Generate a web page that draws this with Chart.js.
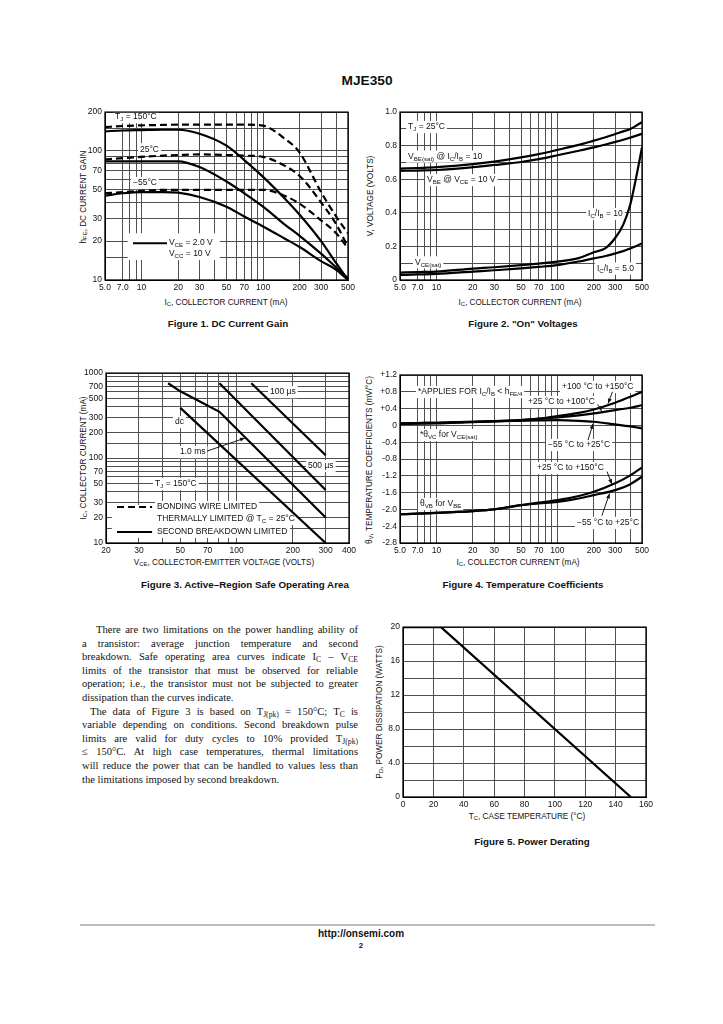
<!DOCTYPE html>
<html><head><meta charset="utf-8">
<script src="https://cdn.jsdelivr.net/npm/chart.js@4.4.0/dist/chart.umd.min.js"></script>
<style>
body{margin:0;width:723px;height:1024px;background:#fff;position:relative;overflow:hidden;font-family:"Liberation Sans",Arial,sans-serif;color:#111}
canvas{position:absolute}
.t{position:absolute;white-space:nowrap;transform:translate(-50%,-50%);line-height:1}
.ax{font-family:"Liberation Sans Narrow","Arial Narrow","Liberation Sans",sans-serif;font-size:8.2px}
.cap{font-weight:bold;font-size:9.8px}
.rot{transform:translate(-50%,-50%) rotate(-90deg)}
sub{font-size:72%;vertical-align:-0.25em;line-height:0}
.para{position:absolute;left:82px;width:276px;font-family:"Liberation Serif","Times New Roman",serif;font-size:10.6px;line-height:13.6px;color:#111}
.para div{text-align:justify;text-align-last:justify;white-space:nowrap}
.para div.end{text-align-last:left}
</style></head><body>

<div class="t" style="left:367px;top:81px;font-weight:bold;font-size:13.7px">MJE350</div>

<div class="t ax rot" style="left:84px;top:197px">h<sub>FE</sub>, DC CURRENT GAIN</div>
<div class="t ax" style="left:226px;top:303px">I<sub>C</sub>, COLLECTOR CURRENT (mA)</div>
<div class="t cap" style="left:228px;top:324px">Figure 1. DC Current Gain</div>

<div class="t ax rot" style="left:371px;top:196px">V, VOLTAGE (VOLTS)</div>
<div class="t ax" style="left:520px;top:303px">I<sub>C</sub>, COLLECTOR CURRENT (mA)</div>
<div class="t cap" style="left:523px;top:324px">Figure 2. "On" Voltages</div>

<div class="t ax rot" style="left:84px;top:458px">I<sub>C</sub>, COLLECTOR CURRENT (mA)</div>
<div class="t ax" style="left:224px;top:563px">V<sub>CE</sub>, COLLECTOR-EMITTER VOLTAGE (VOLTS)</div>
<div class="t cap" style="left:245px;top:585px">Figure 3. Active–Region Safe Operating Area</div>

<div class="t ax rot" style="left:370px;top:460px">θ<sub>V</sub>, TEMPERATURE COEFFICIENTS (mV/°C)</div>
<div class="t ax" style="left:518px;top:563px">I<sub>C</sub>, COLLECTOR CURRENT (mA)</div>
<div class="t cap" style="left:523px;top:585px">Figure 4. Temperature Coefficients</div>

<div class="t ax rot" style="left:380px;top:712px">P<sub>D</sub>, POWER DISSIPATION (WATTS)</div>
<div class="t ax" style="left:527px;top:817px">T<sub>C</sub>, CASE TEMPERATURE (°C)</div>
<div class="t cap" style="left:532px;top:842px">Figure 5. Power Derating</div>

<div class="para" style="top:623px">
<div style="text-indent:14px">There are two limitations on the power handling ability of</div>
<div>a transistor: average junction temperature and second</div>
<div>breakdown. Safe operating area curves indicate I<sub>C</sub> – V<sub>CE</sub></div>
<div>limits of the transistor that must be observed for reliable</div>
<div>operation; i.e., the transistor must not be subjected to greater</div>
<div class="end">dissipation than the curves indicate.</div>
<div style="text-indent:8px">The data of Figure 3 is based on T<sub>J(pk)</sub> = 150°C; T<sub>C</sub> is</div>
<div>variable depending on conditions. Second breakdown pulse</div>
<div>limits are valid for duty cycles to 10% provided T<sub>J(pk)</sub></div>
<div>≤ 150°C. At high case temperatures, thermal limitations</div>
<div>will reduce the power that can be handled to values less than</div>
<div class="end">the limitations imposed by second breakdown.</div>
</div>

<div style="position:absolute;left:80px;top:924px;width:575px;height:2px;background:#bdbdbd"></div>
<div class="t" style="left:361px;top:934px;font-weight:bold;font-size:10px">http://onsemi.com</div>
<div class="t" style="left:361px;top:946px;font-weight:bold;font-size:8px">2</div>

<script>
// ---------- DATA ----------
// Collector-current axis (Figures 1, 2, 4)
const icGrid = [5, 7, 8, 9, 10, 20, 30, 40, 50, 60, 70, 80, 90, 100, 200, 300, 400, 500];
const icLabelValues = [5, 7, 10, 20, 30, 50, 70, 100, 200, 300, 500];
const icLabelText = ['5.0', '7.0', '10', '20', '30', '50', '70', '100', '200', '300', '500'];

// Figure 1: DC current gain
const hfeGrid = [10, 15, 20, 30, 40, 50, 60, 70, 80, 90, 100, 150, 200];
const hfeLabelValues = [10, 20, 30, 50, 70, 100, 200];
const hfeLabelText = ['10', '20', '30', '50', '70', '100', '200'];
const fig1IC = [5, 7, 10, 15, 20, 30, 50, 70, 100, 150, 200, 300, 400, 500];
const hfe150VCC = [153, 156, 158, 159, 160, 160, 160, 160, 157, 125, 97, 48, 31, 23];
const hfe150VCE = [142, 144, 145, 146, 146, 136, 110, 85, 63, 43, 32, 20, 13.5, 10];
const hfe25VCC = [86, 88, 90, 92, 93, 94, 93, 92, 90, 77, 64, 40, 27, 18];
const hfe25VCE = [83, 83, 83, 83, 83, 75, 58, 47, 37, 27, 22, 16, 12.5, 10.3];
const hfeM55VCC = [47, 48, 49, 50, 50, 50, 50, 50, 50, 45, 39, 29, 23, 17.6];
const hfeM55VCE = [45, 47, 48, 48, 47.5, 44, 37, 31, 26, 21, 18, 14, 12, 10];

// Figure 2: "On" voltages
const voltGrid = [0, 0.1, 0.2, 0.3, 0.4, 0.5, 0.6, 0.7, 0.8, 0.9, 1.0];
const voltLabelValues = [0, 0.2, 0.4, 0.6, 0.8, 1.0];
const voltLabelText = ['0', '0.2', '0.4', '0.6', '0.8', '1.0'];
const fig2IC = [5, 7, 10, 20, 30, 50, 70, 100, 150, 200, 250, 300, 350, 400, 450, 500];
const vbeSat = [0.663, 0.667, 0.672, 0.69, 0.705, 0.73, 0.75, 0.775, 0.805, 0.83, 0.85, 0.87, 0.885, 0.9, 0.92, 0.94];
const vbeOn = [0.65, 0.652, 0.655, 0.672, 0.685, 0.703, 0.72, 0.743, 0.77, 0.79, 0.807, 0.822, 0.835, 0.848, 0.86, 0.871];
const vceSat10 = [0.044, 0.047, 0.05, 0.068, 0.076, 0.089, 0.098, 0.109, 0.13, 0.165, 0.19, 0.25, 0.33, 0.45, 0.62, 0.79];
const vceSat5 = [0.03, 0.033, 0.036, 0.05, 0.058, 0.069, 0.078, 0.089, 0.11, 0.129, 0.143, 0.158, 0.172, 0.188, 0.203, 0.218];

// Figure 3: safe operating area
const vceGrid = [20, 30, 40, 50, 60, 70, 80, 90, 100, 200, 300, 400];
const vceLabelValues = [20, 30, 50, 70, 100, 200, 300, 400];
const vceLabelText = ['20', '30', '50', '70', '100', '200', '300', '400'];
const soaIGrid = [10, 15, 20, 30, 40, 50, 60, 70, 80, 90, 100, 150, 200, 300, 400, 500, 600, 700, 800, 900, 1000];
const soaILabelValues = [10, 20, 30, 50, 70, 100, 200, 300, 500, 700, 1000];
const soaILabelText = ['10', '20', '30', '50', '70', '100', '200', '300', '500', '700', '1000'];
const soaDcV = [50, 300];
const soaDcI = [390, 10];
const soa1msV = [43, 50, 64, 81, 300];
const soa1msI = [760, 610, 460, 350, 20];
const soa500usV = [81, 300];
const soa500usI = [760, 42];
const soa100usV = [120, 300];
const soa100usI = [760, 108];

// Figure 4: temperature coefficients
const tcGrid = [-2.8, -2.4, -2.0, -1.6, -1.2, -0.8, -0.4, 0, 0.4, 0.8, 1.2];
const tcLabelText = ['-2.8', '-2.4', '-2.0', '-1.6', '-1.2', '-0.8', '-0.4', '0', '+0.4', '+0.8', '+1.2'];
const fig4IC = [5, 7, 10, 20, 30, 50, 70, 100, 150, 200, 300, 400, 500];
const vc100to150 = [0.047, 0.055, 0.063, 0.087, 0.1, 0.126, 0.16, 0.22, 0.3, 0.38, 0.54, 0.68, 0.8];
const vc25to100 = [0.047, 0.055, 0.063, 0.087, 0.1, 0.126, 0.155, 0.19, 0.24, 0.285, 0.365, 0.42, 0.48];
const vcM55to25 = [0.03, 0.04, 0.047, 0.08, 0.095, 0.11, 0.12, 0.126, 0.11, 0.087, 0.023, -0.025, -0.07];
const vb25to150 = [-2.116, -2.1, -2.084, -2.04, -2.0, -1.9, -1.84, -1.78, -1.68, -1.58, -1.38, -1.19, -1.0];
const vbM55to25 = [-2.116, -2.1, -2.084, -2.04, -2.0, -1.9, -1.86, -1.82, -1.74, -1.66, -1.54, -1.4, -1.22];

// Figure 5: power derating
const tempGrid = [0, 20, 40, 60, 80, 100, 120, 140, 160];
const tempLabelText = ['0', '20', '40', '60', '80', '100', '120', '140', '160'];
const pdGrid = [0, 2, 4, 6, 8, 10, 12, 14, 16, 18, 20];
const pdLabelValues = [0, 4, 8, 12, 16, 20];
const pdLabelText = ['0', '4.0', '8.0', '12', '16', '20'];
const caseTemp = [0, 25, 150];
const powerDiss = [20, 20, 0];

// ---------- RENDERING ----------
const NARROW = "'Liberation Sans Narrow','Arial Narrow','Liberation Sans',Arial,sans-serif";
const TICKFONT = {family: NARROW, size: 8.5};
const NF = 8.5;

function near(arr, v) { return arr.findIndex(a => Math.abs(a - v) <= 1e-6 * Math.max(1, Math.abs(a))); }

function axis(type, min, max, grid, labelVals, labelText, pos) {
  return {
    type, min, max, position: pos,
    afterBuildTicks: s => { s.ticks = grid.map(v => ({value: v})); },
    ticks: { autoSkip: false, maxRotation: 0, minRotation: 0, padding: 3, color: '#111', font: TICKFONT,
      callback: v => { const i = near(labelVals, v); return i < 0 ? '' : labelText[i]; } },
    grid: { color: '#505050', lineWidth: 1, drawTicks: false },
    border: { display: true, color: '#000', width: 1 }
  };
}

function curve(xs, ys, dashed, smooth) {
  return { data: xs.map((x, i) => ({x, y: ys[i]})), borderColor: '#000', borderWidth: 2.2,
    borderDash: dashed ? [7, 4] : [], pointRadius: 0, fill: false, tension: 0,
    cubicInterpolationMode: smooth ? 'monotone' : 'default' };
}

function richParts(s) {
  const out = []; let i = 0, buf = '';
  while (i < s.length) {
    if (s[i] === '_') {
      if (buf) { out.push([buf, 0]); buf = ''; }
      if (s[i + 1] === '{') { const j = s.indexOf('}', i); out.push([s.slice(i + 2, j), 1]); i = j + 1; }
      else { out.push([s[i + 1], 1]); i += 2; }
    } else { buf += s[i]; i++; }
  }
  if (buf) out.push([buf, 0]);
  return out;
}
function richWidth(ctx, s, size) {
  let w = 0;
  for (const [t, sub] of richParts(s)) { ctx.font = `${sub ? size * 0.72 : size}px ${NARROW}`; w += ctx.measureText(t).width; }
  return w;
}
function richDraw(ctx, s, x, y, size) {
  ctx.textBaseline = 'middle'; ctx.textAlign = 'left';
  for (const [t, sub] of richParts(s)) {
    const fs = sub ? size * 0.72 : size;
    ctx.font = `${fs}px ${NARROW}`;
    ctx.fillText(t, x, sub ? y + size * 0.3 : y);
    x += ctx.measureText(t).width;
  }
}
function arrowTo(ctx, x1, y1, x2, y2) {
  ctx.beginPath(); ctx.moveTo(x1, y1); ctx.lineTo(x2, y2); ctx.stroke();
  const a = Math.atan2(y2 - y1, x2 - x1), L = 5, W = 2;
  ctx.beginPath(); ctx.moveTo(x2, y2);
  ctx.lineTo(x2 - L * Math.cos(a) + W * Math.sin(a), y2 - L * Math.sin(a) - W * Math.cos(a));
  ctx.lineTo(x2 - L * Math.cos(a) - W * Math.sin(a), y2 - L * Math.sin(a) + W * Math.cos(a));
  ctx.closePath(); ctx.fill();
}

function notePlugin(notes) {
  return {
    id: 'notes',
    beforeDatasetsDraw(ch) {
      const ctx = ch.ctx, X = ch.scales.x, Y = ch.scales.y;
      ctx.save(); ctx.fillStyle = '#fff';
      for (const n of notes) {
        if (n.k === 'box') {
          const x1 = X.getPixelForValue(n.x1), x2 = X.getPixelForValue(n.x2), y1 = Y.getPixelForValue(n.y1), y2 = Y.getPixelForValue(n.y2);
          ctx.fillRect(Math.min(x1, x2), Math.min(y1, y2), Math.abs(x2 - x1), Math.abs(y2 - y1));
        }
        if (n.k === 'text') {
          const size = n.size || NF, w = richWidth(ctx, n.s, size);
          const px = X.getPixelForValue(n.x), py = Y.getPixelForValue(n.y), h = size * 1.2;
          ctx.fillRect(px - 2, py - h / 2 - 1, w + 4, h + 2);
        }
      }
      ctx.restore();
    },
    afterDatasetsDraw(ch) {
      const ctx = ch.ctx, X = ch.scales.x, Y = ch.scales.y, a = ch.chartArea;
      ctx.save(); ctx.fillStyle = '#111'; ctx.strokeStyle = '#000';
      for (const n of notes) {
        if (n.k === 'text') richDraw(ctx, n.s, X.getPixelForValue(n.x), Y.getPixelForValue(n.y), n.size || NF);
        if (n.k === 'line') {
          ctx.lineWidth = 2; ctx.setLineDash(n.dash ? [7, 4] : []);
          ctx.beginPath(); ctx.moveTo(X.getPixelForValue(n.x1), Y.getPixelForValue(n.y1));
          ctx.lineTo(X.getPixelForValue(n.x2), Y.getPixelForValue(n.y2)); ctx.stroke(); ctx.setLineDash([]);
        }
        if (n.k === 'arrow') {
          ctx.lineWidth = 0.9;
          arrowTo(ctx, X.getPixelForValue(n.x1), Y.getPixelForValue(n.y1), X.getPixelForValue(n.x2), Y.getPixelForValue(n.y2));
        }
      }
      ctx.lineWidth = 1.3; ctx.strokeStyle = '#000';
      ctx.strokeRect(a.left, a.top, a.right - a.left, a.bottom - a.top);
      ctx.restore();
    }
  };
}

function place(box, plot, xAxis, yAxis, datasets, notes) {
  const c = document.createElement('canvas');
  c.width = box[2]; c.height = box[3];
  c.style.left = box[0] + 'px'; c.style.top = box[1] + 'px';
  c.style.width = box[2] + 'px'; c.style.height = box[3] + 'px';
  document.body.appendChild(c);
  const lw = plot[0] - box[0], tp = plot[1] - box[1], rp = box[0] + box[2] - plot[2], bh = box[1] + box[3] - plot[3];
  xAxis.afterFit = s => { s.height = bh; };
  yAxis.afterFit = s => { s.width = lw; };
  return new Chart(c, {
    type: 'line', data: {datasets},
    options: { responsive: false, animation: false, devicePixelRatio: 1, events: [],
      layout: {padding: {top: tp, right: rp, left: 0, bottom: 0}},
      plugins: {legend: {display: false}, tooltip: {enabled: false}},
      scales: {x: xAxis, y: yAxis} },
    plugins: [notePlugin(notes)]
  });
}

// Figure 1
place([85, 104, 275, 190], [105, 112, 348, 280],
  axis('logarithmic', 5, 500, icGrid, icLabelValues, icLabelText, 'bottom'),
  axis('logarithmic', 10, 200, hfeGrid, hfeLabelValues, hfeLabelText, 'left'),
  [curve(fig1IC, hfe150VCC, true, true), curve(fig1IC, hfe150VCE, false, true),
   curve(fig1IC, hfe25VCC, true, true), curve(fig1IC, hfe25VCE, false, true),
   curve(fig1IC, hfeM55VCC, true, true), curve(fig1IC, hfeM55VCE, false, true)],
  [{k: 'box', x1: 7.7, x2: 44, y1: 23, y2: 14.3},
   {k: 'text', s: 'T_J = 150°C', x: 6.05, y: 183},
   {k: 'text', s: '25°C', x: 9.7, y: 103},
   {k: 'text', s: '−55°C', x: 8.5, y: 56.4},
   {k: 'line', x1: 8.5, y1: 19.3, x2: 16.2, y2: 19.3},
   {k: 'text', s: 'V_{CE} = 2.0 V', x: 16.8, y: 19.3},
   {k: 'text', s: 'V_{CC} = 10 V', x: 16.8, y: 15.9}]);

// Figure 2
place([380, 104, 275, 190], [400, 112, 642, 280],
  axis('logarithmic', 5, 500, icGrid, icLabelValues, icLabelText, 'bottom'),
  axis('linear', 0, 1.0, voltGrid, voltLabelValues, voltLabelText, 'left'),
  [curve(fig2IC, vbeSat, false, true), curve(fig2IC, vbeOn, false, true),
   curve(fig2IC, vceSat10, false, true), curve(fig2IC, vceSat5, false, true)],
  [{k: 'text', s: 'T_J = 25°C', x: 5.83, y: 0.911},
   {k: 'text', s: 'V_{BE(sat)} @ I_C/I_B = 10', x: 5.83, y: 0.735},
   {k: 'text', s: 'V_{BE} @ V_{CE} = 10 V', x: 8.36, y: 0.595},
   {k: 'text', s: 'I_C/I_B = 10', x: 179, y: 0.393},
   {k: 'text', s: 'V_{CE(sat)}', x: 6.65, y: 0.105},
   {k: 'text', s: 'I_C/I_B = 5.0', x: 212, y: 0.068}]);

// Figure 3
place([80, 365, 282, 192], [106, 373, 349, 543],
  axis('logarithmic', 20, 400, vceGrid, vceLabelValues, vceLabelText, 'bottom'),
  axis('logarithmic', 10, 1000, soaIGrid, soaILabelValues, soaILabelText, 'left'),
  [curve(soaDcV, soaDcI, false, false), curve(soa1msV, soa1msI, false, false),
   curve(soa500usV, soa500usI, false, false), curve(soa100usV, soa100usI, false, false)],
  [{k: 'box', x1: 21.5, x2: 193, y1: 28, y2: 11.5},
   {k: 'text', s: '100 µs', x: 151, y: 597},
   {k: 'text', s: '500 µs', x: 241, y: 80.5},
   {k: 'text', s: 'dc', x: 46.8, y: 265},
   {k: 'text', s: '1.0 ms', x: 49.8, y: 117.6},
   {k: 'arrow', x1: 69.5, y1: 120.8, x2: 110.9, y2: 171.9},
   {k: 'text', s: 'T_J = 150°C', x: 36.6, y: 49.4},
   {k: 'line', x1: 22.9, y1: 26.5, x2: 35.3, y2: 26.5, dash: true},
   {k: 'text', s: 'BONDING WIRE LIMITED', x: 37.5, y: 26.5},
   {k: 'text', s: 'THERMALLY LIMITED @ T_C = 25°C', x: 37.5, y: 19.2},
   {k: 'line', x1: 22.9, y1: 13.5, x2: 35.3, y2: 13.5},
   {k: 'text', s: 'SECOND BREAKDOWN LIMITED', x: 37.5, y: 13.5}]);

// Figure 4
place([375, 365, 280, 192], [400, 375, 642, 543],
  axis('logarithmic', 5, 500, icGrid, icLabelValues, icLabelText, 'bottom'),
  axis('linear', -2.8, 1.2, tcGrid, tcGrid, tcLabelText, 'left'),
  [curve(fig4IC, vc100to150, false, true), curve(fig4IC, vc25to100, false, true),
   curve(fig4IC, vcM55to25, false, true), curve(fig4IC, vb25to150, false, true),
   curve(fig4IC, vbM55to25, false, true)],
  [{k: 'text', s: '*APPLIES FOR I_C/I_B < h_{FE/4}', x: 7.04, y: 0.795},
   {k: 'text', s: '+100 °C to +150°C', x: 109, y: 0.914},
   {k: 'text', s: '+25 °C to +100°C', x: 57.1, y: 0.557},
   {k: 'text', s: '*θ_{VC} for V_{CE(sat)}', x: 7.31, y: -0.229},
   {k: 'text', s: '−55 °C to +25°C', x: 83.6, y: -0.467},
   {k: 'text', s: '+25 °C to +150°C', x: 67.8, y: -1.014},
   {k: 'text', s: 'θ_{VB} for V_{BE}', x: 7.31, y: -1.871},
   {k: 'text', s: '−55 °C to +25°C', x: 145, y: -2.324},
   {k: 'arrow', x1: 285, y1: 0.8, x2: 262, y2: 0.52},
   {k: 'arrow', x1: 215, y1: 0.5, x2: 232, y2: 0.34},
   {k: 'arrow', x1: 179, y1: -0.35, x2: 197, y2: 0.04},
   {k: 'arrow', x1: 257, y1: -1.1, x2: 282, y2: -1.4},
   {k: 'arrow', x1: 233, y1: -2.15, x2: 270, y2: -1.62}]);

// Figure 5
place([383, 619, 277, 192], [403, 627, 646, 797],
  axis('linear', 0, 160, tempGrid, tempGrid, tempLabelText, 'bottom'),
  axis('linear', 0, 20, pdGrid, pdLabelValues, pdLabelText, 'left'),
  [curve(caseTemp, powerDiss, false, false)],
  []);
</script>
</body></html>
